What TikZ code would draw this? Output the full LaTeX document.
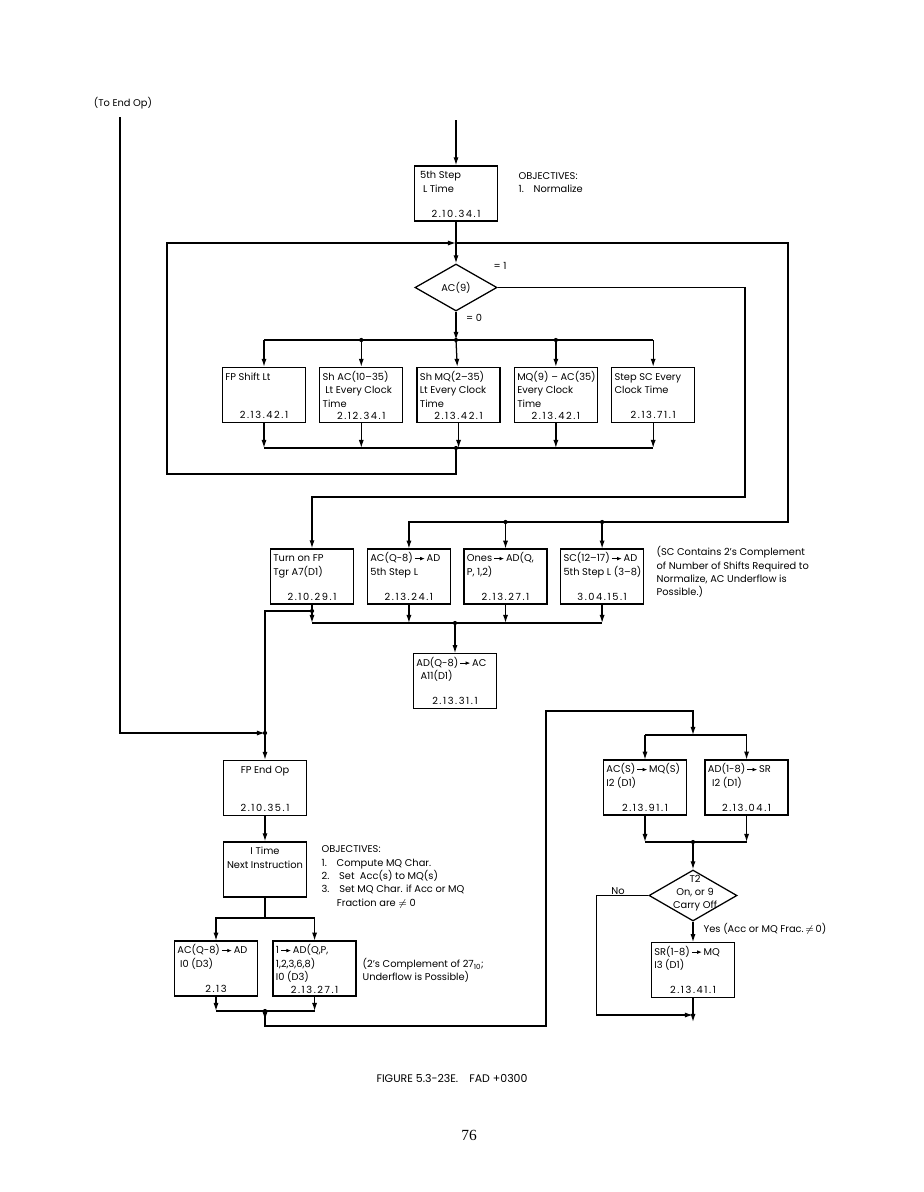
\documentclass[tikz,border=0pt]{standalone}
\usepackage{fontspec}
\setmainfont{Poppins}
\newfontfamily\numfont[LetterSpace=16]{Poppins}
\newfontfamily\pagefont{Liberation Serif}
\usepackage{tikz}
\usetikzlibrary{positioning,arrows.meta,shapes.geometric}
\newcommand{\boxtxt}[2]{\parbox[c][1.2cm][t]{1.93cm}{\begin{tabular}{@{}l@{}}#1\end{tabular}\par\vfill\centering{\numfont #2}}}
\newcommand{\boxtxtc}[2]{\parbox[c][1.2cm][t]{1.93cm}{\centering\begin{tabular}{@{}c@{}}#1\end{tabular}\par\vfill{\numfont #2}}}
\newcommand{\flowarr}{\,\tikz[baseline=-0.6ex]\draw[line width=0.5pt,-{Latex[length=3.2pt,width=2.6pt]}] (0pt,0pt) -- (7pt,0pt);\,}

\begin{document}
\begin{tikzpicture}[
    x=0.025cm, y=-0.025cm,
    line width=0.9pt,
    font=\fontsize{7}{9.5}\selectfont,
    box/.style={draw, inner sep=2pt, minimum width=2.075cm, minimum height=1.375cm},
    dec/.style={draw, diamond, inner sep=0pt},
    arrow/.style={-{Latex[length=5.7pt,width=3.6pt]}},
    jdot/.style={circle, fill, inner sep=0pt, minimum size=3pt},
    note/.style={anchor=west, align=left, inner sep=0pt}
]
\useasboundingbox (0,0) rectangle (923,1192);
\node (toend) at (123,103) {(To End Op)};
\coordinate (te) at (120,117);
\coordinate (top) at (456,120);
\node[box] (step5) at (456,193.5) {\boxtxt{\hspace*{2pt}5th Step\\\hspace*{4pt}L Time}{2.10.34.1}};
\node[note] (obj1) at (518,182.5) {OBJECTIVES:\\1.\quad Normalize};
\coordinate (jtop) at (456,243);
\node[dec, minimum width=2.05cm, minimum height=1.175cm] (ac9) at (456,287.5) {AC(9)};
\node (eq1) at (500,266) {= 1};
\node (eq0) at (474,318) {= 0};
\coordinate (br) at (456,340);
\node[box] (shift) at (264,395) {\boxtxt{FP Shift Lt}{2.13.42.1}};
\node[box, right=0.325cm of shift] (shac) {\boxtxt{Sh AC(10--35)\\\hspace*{2pt}Lt Every Clock\\Time}{2.12.34.1}};
\node[box, right=0.325cm of shac] (shmq) {\boxtxt{Sh MQ(2--35)\\Lt Every Clock\\Time}{2.13.42.1}};
\node[box, right=0.325cm of shmq] (mqac) {\boxtxt{MQ(9) -- AC(35)\\Every Clock\\Time}{2.13.42.1}};
\node[box, right=0.325cm of mqac] (stsc) {\boxtxt{Step SC Every\\Clock Time}{2.13.71.1}};
\coordinate (mg) at (456,448);
\coordinate (hi) at (745,497);
\coordinate (lo) at (788,522);
\node[box] (turn) at (312,576.5) {\boxtxt{Turn on FP\\Tgr A7(D1)}{2.10.29.1}};
\node[box, right=0.325cm of turn] (acqad) {\boxtxt{AC(Q-8)\flowarr AD\\5th Step L}{2.13.24.1}};
\node[box, right=0.325cm of acqad] (ones) {\boxtxt{Ones\flowarr AD(Q,\\P, 1,2)}{2.13.27.1}};
\node[box, right=0.325cm of ones] (scad) {\boxtxt{SC(12--17)\flowarr AD\\5th Step L (3--8)}{3.04.15.1}};
\node[note] (scnote) at (656,572) {(SC Contains 2's Complement\\of Number of Shifts Required to\\Normalize, AC Underflow is\\Possible.)};
\coordinate (jt) at (312,611);
\coordinate (mg2) at (455,623);
\node[box] (adac) at (455,681) {\boxtxt{AD(Q-8)\flowarr AC\\\hspace*{3pt}A11(D1)}{2.13.31.1}};
\coordinate (jend) at (265,733);
\node[box] (fpend) at (265,788) {\boxtxtc{FP End Op}{2.10.35.1}};
\node[box] (itime) at (265,869.5) {\boxtxtc{I Time\\Next Instruction}{}};
\node[note] (obj2) at (321,877) {OBJECTIVES:\\1.\quad Compute MQ Char.\\2.\quad Set\ \ Acc(s) to MQ(s)\\3.\quad Set MQ Char. if Acc or MQ\\\hspace*{1.55em}Fraction are $\neq$ 0};
\coordinate (sp) at (265,918);
\node[box] (acqb) at (216,968.5) {\boxtxt{AC(Q-8)\flowarr AD\\\hspace*{2pt}I0 (D3)}{2.13}};
\node[box, right=0.375cm of acqb] (onesb) {\boxtxt{1\flowarr AD(Q,P,\\1,2,3,6,8)\\I0 (D3)}{2.13.27.1}};
\node[note] (cnote) at (362,970.5) {(2's Complement of 27\textsubscript{10};\\Underflow is Possible)};
\coordinate (mb) at (265,1011);
\coordinate (cb) at (546,1026);
\coordinate (ct) at (546,711);
\coordinate (rs) at (693,735);
\node[box] (acs) at (645,787.5) {\boxtxt{AC(S)\flowarr MQ(S)\\I2 (D1)}{2.13.91.1}};
\node[box, right=0.45cm of acs] (ads) {\boxtxt{AD(1-8)\flowarr SR\\\hspace*{3pt}I2 (D1)}{2.13.04.1}};
\coordinate (mr) at (693,842);
\node[dec, minimum width=2.2cm, minimum height=1.275cm] (t2) at (693,895.5) {};
\node[align=center, inner sep=0pt] (t2txt) at (695,893) {T2\\On, or 9\\Carry Off};
\node (no) at (618,891) {No};
\node[note] (yes) at (703,929) {Yes (Acc or MQ Frac.\,$\neq$\,0)};
\node[box] (srmq) at (693,970) {\boxtxt{SR(1-8)\flowarr MQ\\I3 (D1)}{2.13.41.1}};
\coordinate (ye) at (693,1015);
\coordinate (fin) at (693,1022);
\node[font=\fontsize{7.8}{9.5}\selectfont] (cap) at (452,1078) {FIGURE 5.3-23E.\quad FAD +0300};
\node[font=\pagefont\fontsize{11}{13}\selectfont] (page) at (469,1135) {76};

\draw[arrow] (top) -- (step5);
\draw[arrow] (step5) -- (ac9);
\draw[arrow] (ac9) -- (br);
\draw[arrow] (br) -- (shmq);
\draw (br -| shift) -- (br -| stsc);
\foreach \b in {shift,shac,mqac,stsc} \draw[arrow] (br -| \b) -- (\b);
\foreach \b in {shac,mqac} \node[jdot] (d\b) at (br -| \b) {};
\node[jdot] (dbr) at (br) {};
\draw (mg -| shift) -- (mg -| stsc);
\foreach \b in {shift,shac,shmq,mqac,stsc} \draw[arrow] (\b) -- (\b |- mg);
\node[jdot] (dmg) at (mg) {};
\draw[arrow] (mg) -- ++(0,26) -| (167,243) -- (jtop);
\draw[arrow] (jtop) -| (lo) -| (acqad);
\foreach \b in {ones,scad} {
  \draw[arrow] (lo -| \b) -- (\b);
  \node[jdot] (d\b) at (lo -| \b) {};
}
\draw[arrow] (ac9.east) -| (hi) -| (turn);
\draw (mg2 -| turn) -- (mg2 -| scad);
\draw[arrow] (turn) -- (turn |- mg2);
\foreach \b in {acqad,ones,scad} \draw[arrow] (\b) -- (\b |- mg2);
\node[jdot] (dmg2) at (mg2) {};
\draw[arrow] (mg2) -- (adac);
\node[jdot] (djt) at (jt) {};
\draw (jt) -| (jend);
\draw[arrow] (te) |- (jend);
\node[jdot] (djend) at (jend) {};
\draw[arrow] (jend) -- (fpend);
\draw[arrow] (fpend) -- (itime);
\draw (itime) -- (sp);
\draw[arrow] (sp) -| (acqb);
\draw[arrow] (sp) -| (onesb);
\draw (mb -| acqb) -- (mb -| onesb);
\foreach \b in {acqb,onesb} \draw[arrow] (\b) -- (\b |- mb);
\node[jdot] (dmb) at (mb) {};
\draw[arrow] (mb) -- ++(0,9);
\draw[arrow] (mb) |- (cb) -- (ct) -| (rs);
\draw (acs |- rs) -- (ads |- rs);
\foreach \b in {acs,ads} \draw[arrow] (\b |- rs) -- (\b);
\draw (mr -| acs) -- (mr -| ads);
\foreach \b in {acs,ads} \draw[arrow] (\b) -- (\b |- mr);
\node[jdot] (dmr) at (mr) {};
\draw[arrow] (mr) -- (t2);
\draw[arrow] (t2) -- (srmq);
\draw[arrow] (t2.west) -- ++(-52,0) |- (ye);
\draw[arrow] (srmq) -- (fin);
\end{tikzpicture}
\end{document}
